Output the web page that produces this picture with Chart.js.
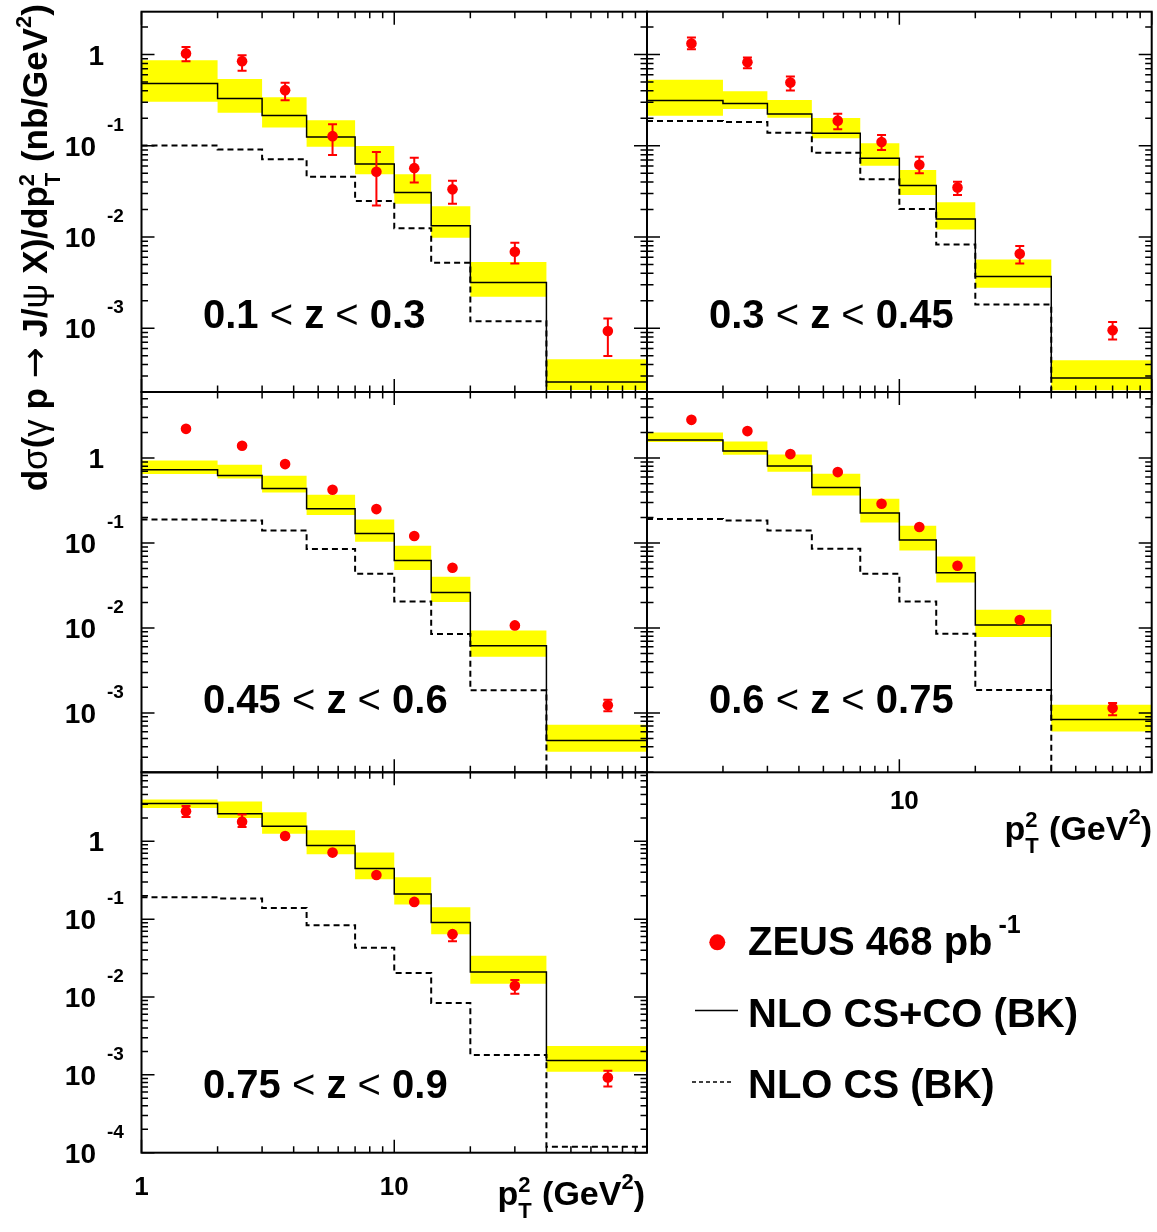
<!DOCTYPE html>
<html>
<head>
<meta charset="utf-8">
<title>ZEUS inelastic J/psi photoproduction, dσ/dp_T^2 in bins of z</title>
<script src="https://cdn.jsdelivr.net/npm/chart.js@4.4.1/dist/chart.umd.min.js"></script>
<style>
  html, body { margin: 0; padding: 0; background: #ffffff; }
  #wrap { position: relative; width: 1157px; height: 1232px; overflow: hidden; background: #ffffff; }
  #wrap canvas { position: absolute; left: 0; top: 0; }
</style>
</head>
<body>
<div id="wrap">
  <canvas id="c1" width="1157" height="1232"></canvas>
  <canvas id="c2" width="1157" height="1232"></canvas>
  <canvas id="c3" width="1157" height="1232"></canvas>
  <canvas id="c4" width="1157" height="1232"></canvas>
  <canvas id="c5" width="1157" height="1232"></canvas>
</div>
<script>
// ===================== DATA =====================
// p_T^2 bin edges (GeV^2) and measured-point positions
const binEdges  = [1, 2, 3, 4.5, 7, 10, 14, 20, 40, 100];
const ptCentres = [1.5, 2.5, 3.7, 5.7, 8.5, 12, 17, 30, 70];

// z ranges of the five panels
const zLow  = ['0.1', '0.3', '0.45', '0.6', '0.75'];
const zHigh = ['0.3', '0.45', '0.6', '0.75', '0.9'];

// y-axis ranges (nb/GeV^2) for the three rows
const yRangeRow1 = [2e-4, 2.95];
const yRangeRow2 = [2e-4, 6];
const yRangeRow3 = [1e-4, 7.7];

// x tick labels shown under the lower-right and the bottom panel
const xTickLabelsPanel4 = [10];
const xTickLabelsPanel5 = [1, 10];

// ---- panel 1 : 0.1 < z < 0.3 ----
const p1Theory = [0.482, 0.330, 0.215, 0.1245, 0.0630, 0.0308, 0.01328, 0.00318, 2.57e-4];
const p1BandLo = [0.303, 0.230, 0.159, 0.0974, 0.0489, 0.0231, 0.00981, 0.00221, 2.10e-4];
const p1BandHi = [0.868, 0.538, 0.341, 0.191, 0.0992, 0.0489, 0.0218, 0.00531, 4.56e-4];
const p1CS     = [0.101, 0.0912, 0.0714, 0.0457, 0.0248, 0.01244, 0.00522, 0.00119, 8e-5];
const p1Data   = [1.03, 0.847, 0.407, 0.1276, 0.0519, 0.0569, 0.0333, 0.00689, 9.32e-4];
const p1Up     = [1.21, 0.985, 0.490, 0.1727, 0.0853, 0.0738, 0.0413, 0.00865, 0.00128];
const p1Down   = [0.847, 0.663, 0.316, 0.0790, 0.0221, 0.0397, 0.0231, 0.00514, 4.97e-4];

// ---- panel 2 : 0.3 < z < 0.45 ----
const p2Theory = [0.313, 0.290, 0.2234, 0.1372, 0.0729, 0.0368, 0.01572, 0.00369, 2.85e-4];
const p2BandLo = [0.214, 0.2535, 0.2034, 0.1209, 0.0605, 0.02884, 0.01212, 0.00277, 2.09e-4];
const p2BandHi = [0.528, 0.396, 0.318, 0.2019, 0.1065, 0.0543, 0.02398, 0.00568, 4.45e-4];
const p2CS     = [0.187, 0.1825, 0.139, 0.084, 0.0429, 0.02024, 0.0083, 0.00182, 1.2e-4];
const p2Data   = [1.32, 0.825, 0.493, 0.1886, 0.110, 0.062, 0.035, 0.00654, 9.51e-4];
const p2Up     = [1.537, 0.927, 0.5734, 0.225, 0.1314, 0.0759, 0.0404, 0.00795, 0.00117];
const p2Down   = [1.146, 0.709, 0.4025, 0.1518, 0.0899, 0.0499, 0.0288, 0.00513, 7.52e-4];

// ---- panel 3 : 0.45 < z < 0.6 ----
const p3Theory = [0.728, 0.624, 0.439, 0.2532, 0.1297, 0.0624, 0.0262, 0.00619, 4.72e-4];
const p3BandLo = [0.648, 0.575, 0.394, 0.2135, 0.1036, 0.0481, 0.0202, 0.0046, 3.48e-4];
const p3BandHi = [0.937, 0.834, 0.619, 0.370, 0.1895, 0.0929, 0.0401, 0.00937, 7.28e-4];
const p3CS     = [0.1895, 0.1845, 0.1407, 0.0850, 0.0435, 0.02056, 0.0085, 0.001845, 1.2e-4];
const p3Data   = [2.21, 1.395, 0.850, 0.424, 0.251, 0.1209, 0.0512, 0.01073, 0.00123];
const p3Up     = [2.28, 1.44, 0.875, 0.437, 0.259, 0.1245, 0.0528, 0.0111, 0.001434];
const p3Down   = [2.14, 1.35, 0.825, 0.411, 0.243, 0.1173, 0.0496, 0.01035, 0.001045];

// ---- panel 4 : 0.6 < z < 0.75 ----
const p4Theory = [1.628, 1.209, 0.805, 0.451, 0.2254, 0.1085, 0.0447, 0.01084, 8.34e-4];
const p4BandLo = [1.543, 1.093, 0.690, 0.363, 0.1747, 0.0818, 0.0344, 0.00784, 6.03e-4];
const p4BandHi = [2.001, 1.568, 1.102, 0.653, 0.332, 0.1598, 0.0696, 0.01641, 0.001252];
const p4CS     = [0.1916, 0.1845, 0.1407, 0.0857, 0.0435, 0.02056, 0.00857, 0.001865, 1.2e-4];
const p4Data   = [2.82, 2.078, 1.114, 0.684, 0.290, 0.1543, 0.0541, 0.01242, 0.001145];
const p4Up     = [2.9, 2.14, 1.15, 0.70, 0.299, 0.159, 0.0557, 0.0128, 0.001312];
const p4Down   = [2.74, 2.02, 1.08, 0.665, 0.281, 0.149, 0.0525, 0.0120, 9.37e-4];

// ---- panel 5 : 0.75 < z < 0.9 ----
const p5Theory = [3.07, 2.265, 1.557, 0.881, 0.4467, 0.211, 0.0907, 0.0209, 0.001525];
const p5BandLo = [2.673, 1.989, 1.255, 0.681, 0.3257, 0.1543, 0.0642, 0.0148, 0.001093];
const p5BandHi = [3.455, 3.257, 2.354, 1.384, 0.716, 0.3455, 0.1425, 0.0338, 0.002354];
const p5CS     = [0.1914, 0.1842, 0.1396, 0.0838, 0.0429, 0.0203, 0.00838, 0.001805, 1.19e-4];
const p5Data   = [2.425, 1.789, 1.169, 0.716, 0.370, 0.1667, 0.0642, 0.01396, 9.23e-4];
const p5Up     = [2.836, 2.218, 1.2, 0.735, 0.38, 0.171, 0.066, 0.01652, 0.001125];
const p5Down   = [2.049, 1.525, 1.14, 0.70, 0.36, 0.162, 0.0522, 0.0110, 7.08e-4];

// ===================== STYLE / LAYOUT =====================
const W = 1157, H = 1232;
const RED = '#ff0000', YELLOW = '#ffff00', BLACK = '#000000';
const FONT = '"Liberation Sans", Arial, Helvetica, sans-serif';
const SYMFONT = '"DejaVu Sans", "Liberation Sans", sans-serif';
const fnt = (size, bold) => (bold ? 'bold ' : '') + size + 'px ' + FONT;

// plot-area rectangles [left, top, right, bottom] in page pixels
const colL = [141.5, 647], colR = [647, 1153.3];
const rowT = [11.7, 392], rowM = [392, 772.3], rowB = [772.3, 1152.7];

const panels = [
  { id: 'c1', theory: p1Theory, lo: p1BandLo, hi: p1BandHi, cs: p1CS, data: p1Data, up: p1Up, down: p1Down,
    yRange: yRangeRow1, box: [colL[0], rowT[0], colL[1], rowT[1]], yLabels: true, xLabels: null, z: 0,
    labelPos: [203, 328], global: true },
  { id: 'c2', theory: p2Theory, lo: p2BandLo, hi: p2BandHi, cs: p2CS, data: p2Data, up: p2Up, down: p2Down,
    yRange: yRangeRow1, box: [colR[0], rowT[0], colR[1], rowT[1]], yLabels: false, xLabels: null, z: 1,
    labelPos: [709, 328] },
  { id: 'c3', theory: p3Theory, lo: p3BandLo, hi: p3BandHi, cs: p3CS, data: p3Data, up: p3Up, down: p3Down,
    yRange: yRangeRow2, box: [colL[0], rowM[0], colL[1], rowM[1]], yLabels: true, xLabels: null, z: 2,
    labelPos: [203, 713] },
  { id: 'c4', theory: p4Theory, lo: p4BandLo, hi: p4BandHi, cs: p4CS, data: p4Data, up: p4Up, down: p4Down,
    yRange: yRangeRow2, box: [colR[0], rowM[0], colR[1], rowM[1]], yLabels: false, xLabels: xTickLabelsPanel4, z: 3,
    labelPos: [709, 713], xLabelBase: 809, xLabelShift: 5, xTitleBase: 840, xTitleRight: 1152 },
  { id: 'c5', theory: p5Theory, lo: p5BandLo, hi: p5BandHi, cs: p5CS, data: p5Data, up: p5Up, down: p5Down,
    yRange: yRangeRow3, box: [colL[0], rowB[0], colL[1], rowB[1]], yLabels: true, xLabels: xTickLabelsPanel5, z: 4,
    labelPos: [203, 1098], xLabelBase: 1195, xLabelShift: 0, xTitleBase: 1205, xTitleRight: 645 }
];

// ===================== HELPERS =====================
function stepPoints(vals) {
  return binEdges.map((e, i) => ({ x: e, y: vals[Math.max(0, i - 1)] }));
}
function markerPoints(vals) {
  return vals.map((v, i) => ({ x: ptCentres[i], y: v }));
}
function logTicks(min, max) {
  const out = [];
  for (let e = Math.floor(Math.log10(min)); e <= Math.ceil(Math.log10(max)); e++) {
    for (let k = 1; k <= 9; k++) {
      const v = k * Math.pow(10, e);
      if (v >= min * 0.9999 && v <= max * 1.0001) out.push({ v, major: k === 1, e });
    }
  }
  return out;
}
function pieceFont(p, F, S) {
  if (p.sym) return (p.symScale ? Math.round(F * p.symScale) : F) + 'px ' + SYMFONT;
  if (p.sup) return fnt(S, true);
  return fnt(F, p.b !== false);
}
// rich text: pieces drawn left to right on a baseline
function richWidth(ctx, pieces, F, S) {
  let w = 0;
  for (const p of pieces) {
    if (p.stack) { ctx.font = fnt(S, true); w += Math.max(ctx.measureText(p.sup).width, ctx.measureText(p.sub).width) + 1; }
    else { ctx.font = pieceFont(p, F, S); w += ctx.measureText(p.t).width; }
  }
  return w;
}
function drawRich(ctx, pieces, x, y, F, S, off) {
  let cx = x;
  ctx.textAlign = 'left';
  ctx.textBaseline = 'alphabetic';
  for (const p of pieces) {
    if (p.stack) {
      ctx.font = fnt(S, true);
      const w = Math.max(ctx.measureText(p.sup).width, ctx.measureText(p.sub).width);
      ctx.fillText(p.sup, cx, y + off.stackSup);
      ctx.fillText(p.sub, cx, y + off.stackSub);
      cx += w + 1;
    } else {
      ctx.font = pieceFont(p, F, S);
      ctx.fillText(p.t, cx, y + (p.sup ? off.sup : 0) + (p.dy || 0));
      cx += ctx.measureText(p.t).width;
    }
  }
  return cx;
}

const yTitlePieces = [
  { t: 'd' }, { t: 'σ', b: false }, { t: '(' }, { t: 'γ', b: false }, { t: ' p ' },
  { t: '→', sym: true, symScale: 1.05 },
  { t: ' J/' }, { t: 'ψ', b: false }, { t: ' X)/dp' }, { stack: true, sup: '2', sub: 'T' },
  { t: ' (nb/GeV' }, { t: '2', sup: true }, { t: ')' }
];
const xTitlePieces = [
  { t: 'p' }, { stack: true, sup: '2', sub: 'T' }, { t: ' (GeV' }, { t: '2', sup: true }, { t: ')' }
];
const legendEntries = ['ZEUS 468 pb', 'NLO CS+CO (BK)', 'NLO CS (BK)'];
const legendExp = '-1';

// ===================== PLUGIN =====================
function decoPlugin(p) {
  return {
    id: 'deco',
    afterDatasetsDraw(chart) {
      const { ctx, scales: { x, y } } = chart;
      ctx.save();
      ctx.strokeStyle = RED;
      ctx.lineWidth = 2;
      p.data.forEach((v, i) => {
        const px = x.getPixelForValue(ptCentres[i]);
        const yu = y.getPixelForValue(p.up[i]);
        const yd = y.getPixelForValue(p.down[i]);
        ctx.beginPath();
        ctx.moveTo(px, yu); ctx.lineTo(px, yd);
        ctx.moveTo(px - 4.5, yu); ctx.lineTo(px + 4.5, yu);
        ctx.moveTo(px - 4.5, yd); ctx.lineTo(px + 4.5, yd);
        ctx.stroke();
      });
      ctx.restore();
    },
    afterDraw(chart) {
      const { ctx, chartArea: a, scales: { x, y } } = chart;
      ctx.save();
      ctx.fillStyle = BLACK;
      ctx.strokeStyle = BLACK;
      // ticks
      ctx.lineWidth = 1.5;
      ctx.beginPath();
      for (const t of logTicks(x.min, x.max)) {
        const px = x.getPixelForValue(t.v);
        const len = t.major ? 13 : 6.5;
        ctx.moveTo(px, a.bottom); ctx.lineTo(px, a.bottom - len);
        ctx.moveTo(px, a.top); ctx.lineTo(px, a.top + len);
      }
      for (const t of logTicks(y.min, y.max)) {
        const py = y.getPixelForValue(t.v);
        const len = t.major ? 13 : 6.5;
        ctx.moveTo(a.left, py); ctx.lineTo(a.left + len, py);
        ctx.moveTo(a.right, py); ctx.lineTo(a.right - len, py);
      }
      ctx.stroke();
      // frame
      ctx.lineWidth = 2;
      ctx.strokeRect(a.left, a.top, a.right - a.left, a.bottom - a.top);

      // y tick labels
      if (p.yLabels) {
        for (const t of logTicks(y.min, y.max)) {
          if (!t.major) continue;
          const py = y.getPixelForValue(t.v);
          if (t.e === 0) {
            ctx.font = fnt(28, true); ctx.textAlign = 'right'; ctx.textBaseline = 'alphabetic';
            ctx.fillText('1', 104, py + 10);
          } else {
            ctx.font = fnt(28, true); ctx.textAlign = 'right'; ctx.textBaseline = 'alphabetic';
            ctx.fillText('10', 96, py + 10);
            ctx.font = fnt(19, true); ctx.textAlign = 'left';
            ctx.fillText(String(t.e), 107, py - 15);
          }
        }
      }
      // x tick labels and x title
      if (p.xLabels) {
        ctx.font = fnt(26, true); ctx.textAlign = 'center'; ctx.textBaseline = 'alphabetic';
        for (const v of p.xLabels) ctx.fillText(String(v), x.getPixelForValue(v) + p.xLabelShift, p.xLabelBase);
        const off = { stackSup: -13, stackSub: 13, sup: -16 };
        const w = richWidth(ctx, xTitlePieces, 34, 22);
        drawRich(ctx, xTitlePieces, p.xTitleRight - w, p.xTitleBase, 34, 22, off);
      }
      // panel z label
      {
        const pieces = [
          { t: zLow[p.z] + ' ' }, { t: '<', b: false }, { t: ' z ' }, { t: '<', b: false }, { t: ' ' + zHigh[p.z] }
        ];
        drawRich(ctx, pieces, p.labelPos[0], p.labelPos[1], 40, 24, { stackSup: 0, stackSub: 0, sup: 0 });
      }
      // global texts: y-axis title and legend
      if (p.global) {
        const off = { stackSup: -13, stackSub: 13, sup: -16 };
        const F = 35, S = 22;
        const w = richWidth(ctx, yTitlePieces, F, S);
        ctx.save();
        ctx.translate(47, 4 + w);
        ctx.rotate(-Math.PI / 2);
        drawRich(ctx, yTitlePieces, 0, 0, F, S, off);
        ctx.restore();

        // legend
        ctx.fillStyle = RED;
        ctx.beginPath(); ctx.arc(717.3, 942.3, 8, 0, Math.PI * 2); ctx.fill();
        ctx.fillStyle = BLACK;
        ctx.font = fnt(40, true); ctx.textAlign = 'left'; ctx.textBaseline = 'alphabetic';
        ctx.fillText(legendEntries[0], 748, 955);
        const ew = ctx.measureText(legendEntries[0]).width;
        ctx.font = fnt(25, true);
        ctx.fillText(legendExp, 748 + ew + 6, 933);
        ctx.font = fnt(40, true);
        ctx.fillText(legendEntries[1], 748, 1027);
        ctx.fillText(legendEntries[2], 748, 1098);
        ctx.lineWidth = 1.5;
        ctx.beginPath(); ctx.moveTo(695, 1010.5); ctx.lineTo(738, 1010.5); ctx.stroke();
        ctx.setLineDash([4, 3]);
        ctx.beginPath(); ctx.moveTo(692, 1082); ctx.lineTo(734, 1082); ctx.stroke();
        ctx.setLineDash([]);
      }
      ctx.restore();
    }
  };
}

// ===================== CHARTS =====================
for (const p of panels) {
  const [l, t, r, b] = p.box;
  new Chart(document.getElementById(p.id), {
    type: 'line',
    data: {
      datasets: [
        { label: 'ZEUS 468 pb-1', data: markerPoints(p.data), showLine: false,
          pointRadius: 5.3, pointBackgroundColor: RED, pointBorderColor: RED, pointBorderWidth: 0, order: 0 },
        { label: 'NLO CS+CO (BK)', data: stepPoints(p.theory), stepped: 'after', borderColor: BLACK,
          borderWidth: 1.5, pointRadius: 0, fill: false, order: 1 },
        { label: 'NLO CS (BK)', data: stepPoints(p.cs), stepped: 'after', borderColor: BLACK,
          borderWidth: 2, borderDash: [6, 4], pointRadius: 0, fill: false, order: 1 },
        { label: 'band upper', data: stepPoints(p.hi), stepped: 'after', borderColor: 'rgba(0,0,0,0)',
          borderWidth: 0, pointRadius: 0, backgroundColor: YELLOW, fill: '+1', order: 2 },
        { label: 'band lower', data: stepPoints(p.lo), stepped: 'after', borderColor: 'rgba(0,0,0,0)',
          borderWidth: 0, pointRadius: 0, fill: false, order: 2 }
      ]
    },
    options: {
      responsive: false,
      animation: false,
      events: [],
      layout: { padding: { left: l, top: t, right: W - r, bottom: H - b } },
      plugins: { legend: { display: false }, tooltip: { enabled: false } },
      scales: {
        x: { type: 'logarithmic', min: 1, max: 100, display: false },
        y: { type: 'logarithmic', min: p.yRange[0], max: p.yRange[1], display: false }
      }
    },
    plugins: [decoPlugin(p)]
  });
}
</script>
</body>
</html>
